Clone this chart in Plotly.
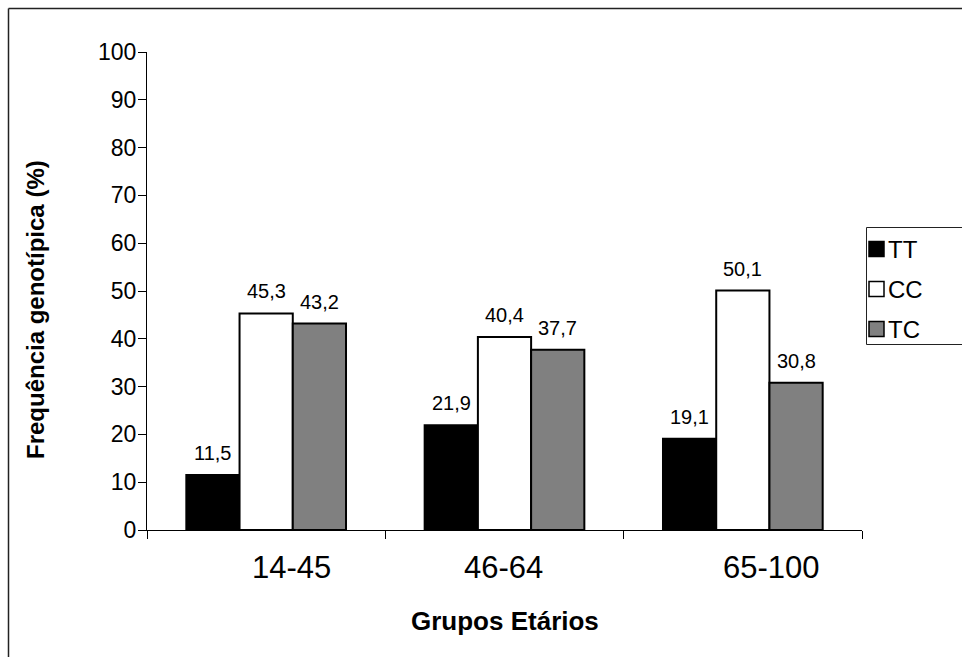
import plotly.graph_objects as go

# Age groups and genotype frequencies (%)
grupos = ["14-45", "46-64", "65-100"]
genotipos = ["TT", "CC", "TC"]
freq_tt = [11.5, 21.9, 19.1]
freq_cc = [45.3, 40.4, 50.1]
freq_tc = [43.2, 37.7, 30.8]
cores = ["#000000", "#ffffff", "#808080"]
y_ticks = [0, 10, 20, 30, 40, 50, 60, 70, 80, 90, 100]

series = [freq_tt, freq_cc, freq_tc]

W, H = 962, 657
ML, MR, MT, MB = 147, 100, 52, 127
plot_w = W - ML - MR
plot_h = H - MT - MB
BARGAP = 0.33
bar_px = plot_w / len(grupos) * (1 - BARGAP) / len(genotipos)
# horizontal nudge (px) of each group label under the axis
label_nudge = [25, -1, 29]

# legend box geometry (px)
LEG_X0, LEG_Y0, LEG_Y1 = 866, 227, 344
LEG_ROW0, LEG_ROW_STEP, LEG_SYM = 249, 40, 15

FONT = "Liberation Sans, Arial, sans-serif"


def px_x(px):
    return (px - ML) / plot_w


def px_y(py):
    return (H - MB - py) / plot_h


fig = go.Figure()
for nome, vals, cor in zip(genotipos, series, cores):
    fig.add_trace(go.Bar(
        name=nome, x=grupos, y=vals, showlegend=False,
        marker=dict(color=cor, line=dict(color="#000000", width=2)),
    ))

# value labels above each bar
for j, vals in enumerate(series):
    for g, v in zip(grupos, vals):
        fig.add_annotation(
            x=g, y=v, xref="x", yref="y",
            text=f"{v:.1f}".replace(".", ","),
            showarrow=False, yanchor="bottom",
            xshift=(j - 1) * bar_px, yshift=9,
            font=dict(family=FONT, size=20, color="#000000"),
        )

# group labels under the category axis
for g, dx in zip(grupos, label_nudge):
    fig.add_annotation(
        x=g, y=px_y(567), xref="x", yref="paper",
        xanchor="center", yanchor="middle", xshift=dx,
        text=g, showarrow=False,
        font=dict(family=FONT, size=31, color="#000000"),
    )

# axis titles
fig.add_annotation(
    x=px_x(35), y=px_y(309), xref="paper", yref="paper",
    xanchor="center", yanchor="middle",
    text="<b>Frequência genotípica (%)</b>", textangle=-90,
    showarrow=False, font=dict(family=FONT, size=24, color="#000000"),
)
fig.add_annotation(
    x=0.5, y=px_y(621), xref="paper", yref="paper",
    xanchor="center", yanchor="middle",
    text="<b>Grupos Etários</b>", showarrow=False,
    font=dict(family=FONT, size=26, color="#000000"),
)

# outer frame (top and left edges inside the page)
frame = dict(color="#222222", width=1.5)
fig.add_shape(type="line", xref="paper", yref="paper",
              x0=px_x(8.5), x1=px_x(W + 5), y0=px_y(8.5), y1=px_y(8.5), line=frame)
fig.add_shape(type="line", xref="paper", yref="paper",
              x0=px_x(8.5), x1=px_x(8.5), y0=px_y(8.5), y1=px_y(H + 5), line=frame)

# legend: framed box with a swatch and the genotype name per row
fig.add_shape(type="rect", xref="paper", yref="paper",
              x0=px_x(LEG_X0 + 0.5), x1=px_x(W + 5),
              y0=px_y(LEG_Y1 + 0.5), y1=px_y(LEG_Y0 + 0.5),
              line=dict(color="#222222", width=1), fillcolor="white")
for i, (nome, cor) in enumerate(zip(genotipos, cores)):
    cy = LEG_ROW0 + i * LEG_ROW_STEP
    fig.add_shape(type="rect", xref="paper", yref="paper",
                  x0=px_x(LEG_X0 + 3), x1=px_x(LEG_X0 + 3 + LEG_SYM),
                  y0=px_y(cy + LEG_SYM / 2), y1=px_y(cy - LEG_SYM / 2),
                  line=dict(color="#000000", width=1.5), fillcolor=cor)
    fig.add_annotation(x=px_x(LEG_X0 + 3 + LEG_SYM + 2), y=px_y(cy),
                       xref="paper", yref="paper",
                       xanchor="left", yanchor="middle", showarrow=False,
                       text=nome, font=dict(family=FONT, size=24, color="#000000"))

fig.update_layout(
    width=W, height=H,
    margin=dict(l=ML, r=MR, t=MT, b=MB, autoexpand=False),
    paper_bgcolor="white", plot_bgcolor="white",
    barmode="group", bargap=BARGAP, bargroupgap=0,
    font=dict(family=FONT, color="#000000"),
    showlegend=False,
    xaxis=dict(
        showline=True, linecolor="#000000", linewidth=1,
        ticks="outside", tickson="boundaries", ticklen=8, tickcolor="#000000",
        showticklabels=False,
        showgrid=False, zeroline=False,
    ),
    yaxis=dict(
        range=[0, 100], tickvals=y_ticks,
        showline=True, linecolor="#000000", linewidth=1,
        ticks="outside", ticklen=8, tickcolor="#000000",
        tickfont=dict(family=FONT, size=23, color="#000000"),
        ticklabelstandoff=-3,
        showgrid=False, zeroline=False,
    ),
)

fig.write_html("out.html")
